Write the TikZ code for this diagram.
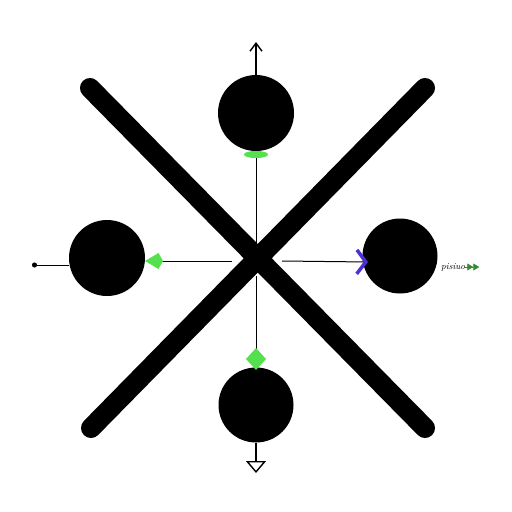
\documentclass[tikz,border=0pt]{standalone}
\usetikzlibrary{arrows.meta}
\definecolor{tipgreen}{HTML}{55E04E}
\definecolor{darkgreen}{HTML}{2E8B2E}
\definecolor{tipblue}{HTML}{4E2FD3}
\tikzset{
  ball/.style={circle, fill=black, inner sep=0pt, minimum size=#1},
  thin link/.style={draw=black, line width=1pt},
  cross bar/.style={line width=20pt, line cap=round}
}
\begin{document}
\begin{tikzpicture}[x=1pt, y=-1pt]
        \useasboundingbox (0, 0) rectangle (512, 512); %
        \draw[cross bar] (90, 88) -- (425, 428); %
        \draw[cross bar] (425, 88) -- (91, 428); %
        \node[ball=76pt] (top) at (256, 113) {}; %
        \node[ball=76pt] (left) at (107, 258) {}; %
        \node[ball=75pt] (right) at (400, 256) {}; %
        \node[ball=75pt] (bottom) at (256, 405) {}; %
        \coordinate (c) at (256, 261); %
        \coordinate (up) at (256, 42); %
        \coordinate (down) at (256, 473); %
        \coordinate (dot) at (32, 265); %
        \node[font=\itshape\fontsize{9}{9}\selectfont, inner sep=0pt,
        anchor=west] (name) at (441, 267) {pisiuo}; %
        \draw[thin link, -{Ellipse[tipgreen, length=7pt, width=24pt]}]
        (c) -- (256, 151); %
        \draw[thin link, -{Kite[tipgreen, length=18pt, width=16pt]}]
        (232, 261) -- (145, 261); %
        \draw[thin link, -{Straight Barb[tipblue, line width=3.5pt,
        length=9pt, width=24pt]} ] (282, 261) -- (368, 262); %
        \draw[thin link, -{Diamond[tipgreen, length=22pt, width=20pt]}]
        (256, 276) -- (256, 370); %
        \draw[thin link, line width=1.4pt, -{Straight Barb[length=8pt,
        width=12pt]}] (top) -- (up); %
        \draw[thin link, line width=1.4pt, -{Triangle[open, length=12pt,
        width=20pt]}] (bottom) -- (down); %
        \draw[thin link, -{Circle[length=5pt]}] (69, 265) -- (dot); %
        \draw[darkgreen, line width=0.6pt, -{Triangle[length=6pt,
        width=7pt] Triangle[length=6pt, width=7pt]}] (name.east) --
        ++(14, 0);
      \end{tikzpicture}
\end{document}
